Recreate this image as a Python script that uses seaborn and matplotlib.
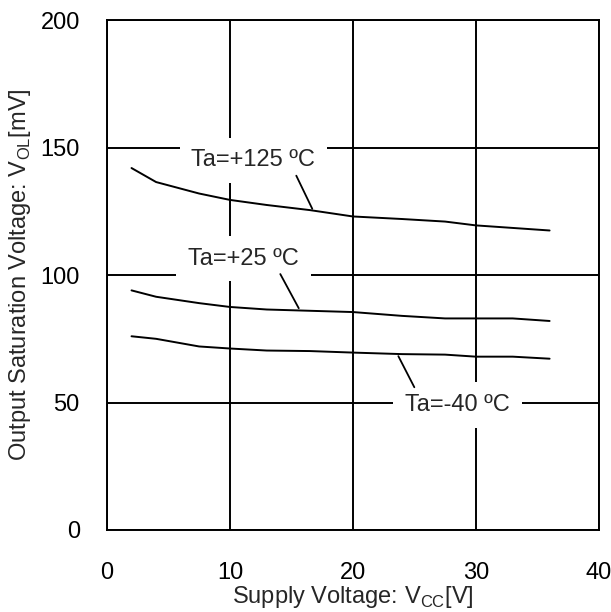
import pandas as pd
import matplotlib
matplotlib.use("Agg")
import matplotlib.pyplot as plt
import seaborn as sns

# values
vcc = [2, 4, 7.5, 10, 13, 16.5, 20, 24, 27.5, 30, 33, 36]
vol_125 = [142, 136.5, 132, 129.5, 127.5, 125.5, 123, 122, 121, 119.5, 118.5, 117.5]
vol_25 = [94, 91.5, 89, 87.5, 86.5, 86, 85.5, 84, 83, 83, 83, 82]
vol_m40 = [76, 75, 72, 71.2, 70.4, 70.2, 69.6, 69, 68.8, 68, 68, 67.2]
labels = ["Ta=+125 \u00baC", "Ta=+25 \u00baC", "Ta=-40 \u00baC"]

x_ticks = [0, 10, 20, 30, 40]
y_ticks = [0, 50, 100, 150, 200]

# long-form table for seaborn
df = pd.concat([
    pd.DataFrame({"vcc": vcc, "vol": v, "temp": lab})
    for v, lab in zip([vol_125, vol_25, vol_m40], labels)
])

sns.set_theme(style="white")
plt.rcParams["font.family"] = ["Liberation Sans", "DejaVu Sans"]

fig = plt.figure(figsize=(6.11, 6.12), dpi=100)
ax = fig.add_axes([0.175, 0.134, 0.805, 0.833])

sns.lineplot(data=df, x="vcc", y="vol", units="temp", estimator=None,
             color="black", linewidth=1.4, ax=ax, zorder=4)

ax.set_xlim(0, 40)
ax.set_ylim(0, 200)
ax.set_xticks(x_ticks)
ax.set_yticks(y_ticks)
ax.tick_params(axis="x", length=0, pad=23, labelsize=17, colors="black")
ax.tick_params(axis="y", length=0, pad=19.5, labelsize=17, colors="black")
ax.grid(True, color="black", linewidth=1.4)
for s in ax.spines.values():
    s.set_color("black")
    s.set_linewidth(1.4)

ax.set_xlabel("Supply Voltage: V$_{\\mathregular{CC}}$[V]", fontsize=17)
ax.set_ylabel("Output Saturation Voltage: V$_{\\mathregular{OL}}$[mV]", fontsize=17)
ax.xaxis.set_label_coords(0.5, -0.105)
ax.yaxis.set_label_coords(-0.15, 0.5)

# curve labels with white boxes and leader lines
text_pos = [(11.9, 145), (11.1, 106.5), (28.5, 49)]
leader_start = [(15.4, 139), (14.1, 100.4), (23.7, 68.2)]
leader_end = [(16.7, 126), (15.6, 87), (25.0, 56)]
for lab, tp, ls, le in zip(labels, text_pos, leader_start, leader_end):
    ax.text(tp[0], tp[1], lab, ha="center", va="center", fontsize=17, zorder=3,
            bbox=dict(boxstyle="square,pad=0.5", fc="white", ec="none"))
    ax.annotate("", xy=le, xytext=ls,
                arrowprops=dict(arrowstyle="-", color="black", lw=1.3,
                                shrinkA=0, shrinkB=0), zorder=5)

fig.savefig("out.png", dpi=100)
